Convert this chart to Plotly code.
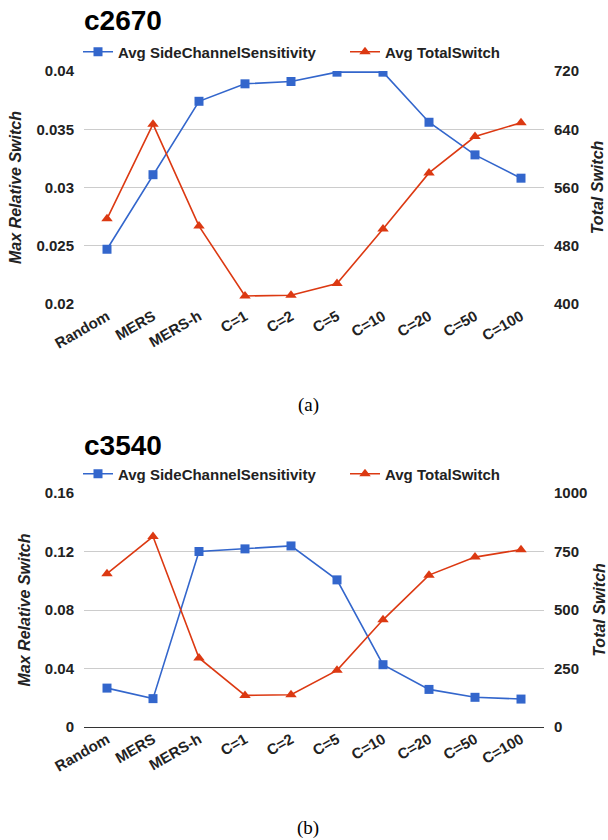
import plotly.graph_objects as go

categories = ["Random", "MERS", "MERS-h", "C=1", "C=2", "C=5", "C=10", "C=20", "C=50", "C=100"]

# c2670
a_sensitivity = [0.0247, 0.0311, 0.0374, 0.0389, 0.0391, 0.0399, 0.0399, 0.0356, 0.0328, 0.0308]
a_totalswitch = [517, 647, 507, 411, 412, 428, 503, 580, 630, 649]

# c3540
b_sensitivity = [0.0266, 0.0194, 0.1200, 0.1218, 0.1238, 0.1006, 0.0426, 0.0257, 0.0203, 0.0191]
b_totalswitch = [655, 814, 295, 135, 138, 242, 458, 649, 726, 758]

a_left_ticks = [0.02, 0.025, 0.03, 0.035, 0.04]
a_left_text = ["0.02", "0.025", "0.03", "0.035", "0.04"]
a_right_ticks = [400, 480, 560, 640, 720]
b_left_ticks = [0, 0.04, 0.08, 0.12, 0.16]
b_left_text = ["0", "0.04", "0.08", "0.12", "0.16"]
b_right_ticks = [0, 250, 500, 750, 1000]

BLUE = "#3366CC"
RED = "#DC3912"
TXT = "#222222"
FONT = "Liberation Sans, Arial, sans-serif"
W, H = 608, 840

fig = go.Figure()

def add_pair(xa, ya, ya2, sens, tot, legend):
    fig.add_trace(go.Scatter(
        x=categories, y=sens, name="Avg SideChannelSensitivity",
        mode="lines+markers", xaxis=xa, yaxis=ya, legend=legend,
        line=dict(color=BLUE, width=1.6),
        marker=dict(symbol="square", size=9, color=BLUE)))
    fig.add_trace(go.Scatter(
        x=categories, y=tot, name="Avg TotalSwitch",
        mode="lines+markers", xaxis=xa, yaxis=ya2, legend=legend,
        line=dict(color=RED, width=1.6),
        marker=dict(symbol="triangle-up", size=10, color=RED)))

add_pair("x", "y", "y2", a_sensitivity, a_totalswitch, "legend")
add_pair("x2", "y3", "y4", b_sensitivity, b_totalswitch, "legend2")

def py(px):
    return 1 - px / H

xdom = [84 / W, 544 / W]
tickfont = dict(family=FONT, size=15, color=TXT, weight="bold")
titlefont = dict(family=FONT, size=16, color=TXT, weight="bold", style="italic")

xcommon = dict(domain=xdom, range=[-0.5, 9.5], showgrid=False, showline=False,
               ticks="", tickangle=-30, tickfont=tickfont, automargin=False,
               categoryorder="array", categoryarray=categories)

ycommon = dict(tickfont=tickfont, automargin=False, ticks="", ticklabelstandoff=9)

legfont = dict(family=FONT, size=15, color=TXT, weight="bold")

fig.update_layout(
    width=W, height=H, autosize=False,
    margin=dict(l=0, r=0, t=0, b=0, autoexpand=False),
    paper_bgcolor="white", plot_bgcolor="white", showlegend=True,
    xaxis=dict(anchor="y", **xcommon),
    xaxis2=dict(anchor="y3", **xcommon),
    yaxis=dict(domain=[py(304), py(71)], range=[0.02, 0.04], tickvals=a_left_ticks,
               ticktext=a_left_text, showgrid=True, gridcolor="#CCCCCC", zeroline=False,
               anchor="x", title=dict(text="Max Relative Switch", font=titlefont, standoff=10),
               **ycommon),
    yaxis2=dict(domain=[py(304), py(71)], range=[400, 720], tickvals=a_right_ticks,
                overlaying="y", side="right", showgrid=False, zeroline=False, anchor="x",
                title=dict(text="Total Switch", font=titlefont, standoff=13), **ycommon),
    yaxis3=dict(domain=[py(727), py(493)], range=[0, 0.16], tickvals=b_left_ticks,
                ticktext=b_left_text, showgrid=True, gridcolor="#CCCCCC", zeroline=True,
                zerolinecolor="#333333", zerolinewidth=1, anchor="x2",
                title=dict(text="Max Relative Switch", font=titlefont, standoff=10),
                **ycommon),
    yaxis4=dict(domain=[py(727), py(493)], range=[0, 1000], tickvals=b_right_ticks,
                overlaying="y3", side="right", showgrid=False, zeroline=False, anchor="x2",
                title=dict(text="Total Switch", font=titlefont, standoff=13), **ycommon),
    legend=dict(orientation="h", x=78 / W, xanchor="left", y=py(52), yanchor="middle",
                font=legfont, bgcolor="rgba(0,0,0,0)", itemwidth=30,
                traceorder="normal", entrywidth=222),
    legend2=dict(orientation="h", x=78 / W, xanchor="left", y=py(474), yanchor="middle",
                 font=legfont, bgcolor="rgba(0,0,0,0)", itemwidth=30,
                 traceorder="normal", entrywidth=222),
)

annotations = [
    dict(text="c2670", x=82 / W, y=py(20), xanchor="left", yanchor="middle",
         font=dict(family=FONT, size=28, color="#000000", weight="bold")),
    dict(text="c3540", x=82 / W, y=py(445), xanchor="left", yanchor="middle",
         font=dict(family=FONT, size=28, color="#000000", weight="bold")),
    dict(text="(a)", x=308 / W, y=py(405), xanchor="center", yanchor="middle",
         font=dict(family="Liberation Serif", size=19, color="#000000")),
    dict(text="(b)", x=308 / W, y=py(828), xanchor="center", yanchor="middle",
         font=dict(family="Liberation Serif", size=19, color="#000000")),
]
for a in annotations:
    a.update(xref="paper", yref="paper", showarrow=False)
fig.update_layout(annotations=annotations)

fig.write_html("out.html", config={"displayModeBar": False, "responsive": False},
               post_script="document.body.style.margin='0';document.body.style.overflow='hidden';")
